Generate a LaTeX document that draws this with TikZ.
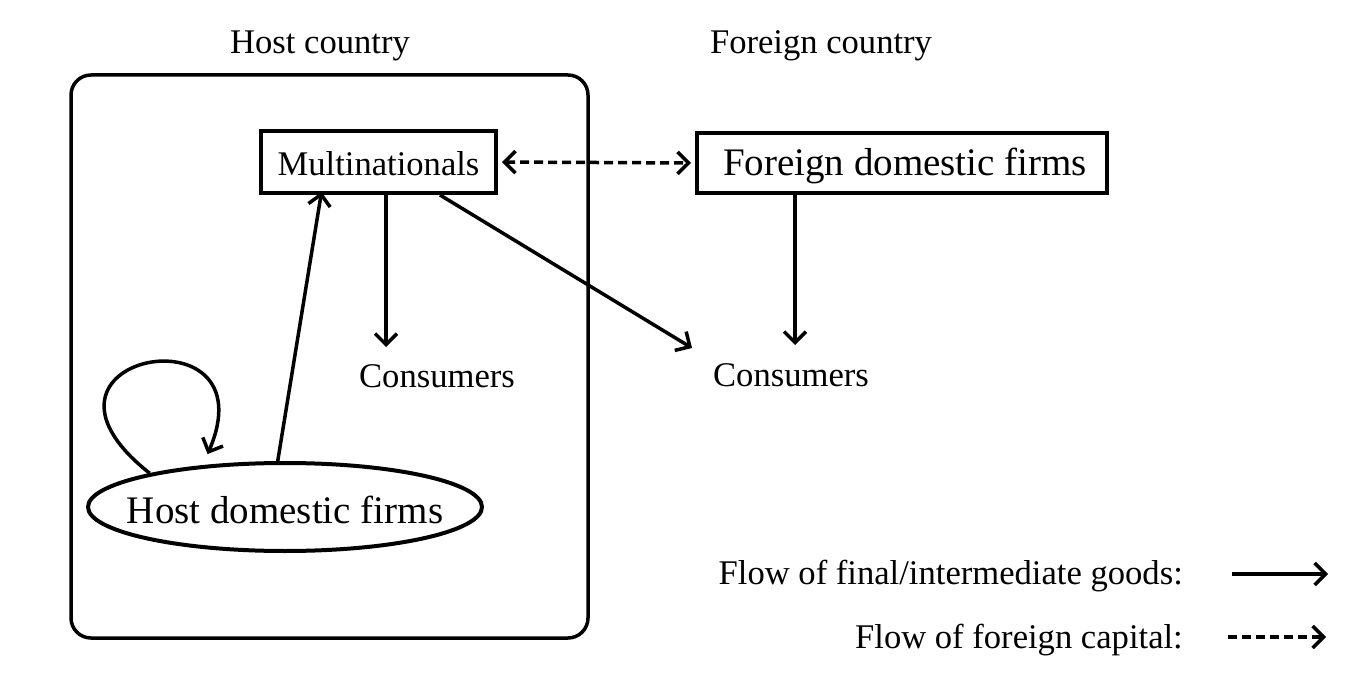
\documentclass[tikz,border=0pt]{standalone}
\usepackage{fontspec}
\setmainfont{Liberation Serif}
\usetikzlibrary{arrows.meta,shapes.geometric}
\begin{document}
\begin{tikzpicture}[x=1pt,y=-1pt,
  lbl/.style={inner sep=0pt,font=\fontsize{34.6}{40}\selectfont},
  biglbl/.style={inner sep=0pt,font=\fontsize{39}{44}\selectfont},
  boxnode/.style={draw,line width=4pt,inner sep=0pt},
  flow/.style={line width=3.5pt,-{Straight Barb[length=11pt,width=22pt]}},
  capflow/.style={line width=3.5pt,dash pattern=on 9pt off 5pt,{Straight Barb[length=11pt,width=22pt]}-{Straight Barb[length=11pt,width=22pt]}},
  legcap/.style={line width=3.5pt,dash pattern=on 9pt off 5pt,-{Straight Barb[length=11pt,width=22pt]}}
]
\useasboundingbox (0,0) rectangle (1357,676);
% labels
\node[lbl] (hostlbl) at (320,46) {Host country};
\node[lbl] (forlbl) at (821,46) {Foreign country};
% host country frame
\draw[line width=3.5pt,rounded corners=20pt] (71,75) rectangle (588,638);
% nodes
\node[boxnode,minimum width=235pt,minimum height=62pt] (multi) at (378.5,162) {};
\node[lbl] (multitext) at (378.5,164) {Multinationals};
\node[boxnode,minimum width=410pt,minimum height=60pt] (fdf) at (902,163) {};
\node[biglbl] (fdftext) at (905,166) {Foreign domestic firms};
\node[lbl] (cons1) at (437,376) {Consumers};
\node[lbl] (cons2) at (791,375) {Consumers};
\node[ellipse,draw,line width=4pt,inner sep=0pt,minimum width=394pt,minimum height=88pt] (hdf) at (285,507) {};
\node[biglbl] (hdftext) at (285,510) {Host domestic firms};
% endpoints
\coordinate (c1t) at (386,347);
\coordinate (c2t) at (692,348);
\coordinate (c3t) at (795,345);
% connectors
\draw[flow] ([xshift=7.5pt]multi.south) -- (c1t);
\draw[flow] ([xshift=61.5pt]multi.south) -- (c2t);
\draw[flow] ([xshift=-107pt]fdf.south) -- (c3t);
\draw[flow] (hdf.99) -- ([xshift=-57pt,yshift=3pt]multi.south);
\draw[capflow,shorten <=4pt,shorten >=4pt] (multi.east) -- (fdf.west);
\draw[flow,shorten >=12pt] (hdf.166) .. controls (0,355) and (272,305) .. (hdf.153);
% legend
\node[lbl,anchor=east] (leg1) at (1183,576) {Flow of final/intermediate goods:};
\node[lbl,anchor=east] (leg2) at (1183,640) {Flow of foreign capital:};
\coordinate (l1a) at (1232,574);
\coordinate (l1b) at (1328,574);
\coordinate (l2a) at (1228,637);
\coordinate (l2b) at (1326,637);
\draw[flow] (l1a) -- (l1b);
\draw[legcap] (l2a) -- (l2b);
\end{tikzpicture}
\end{document}
